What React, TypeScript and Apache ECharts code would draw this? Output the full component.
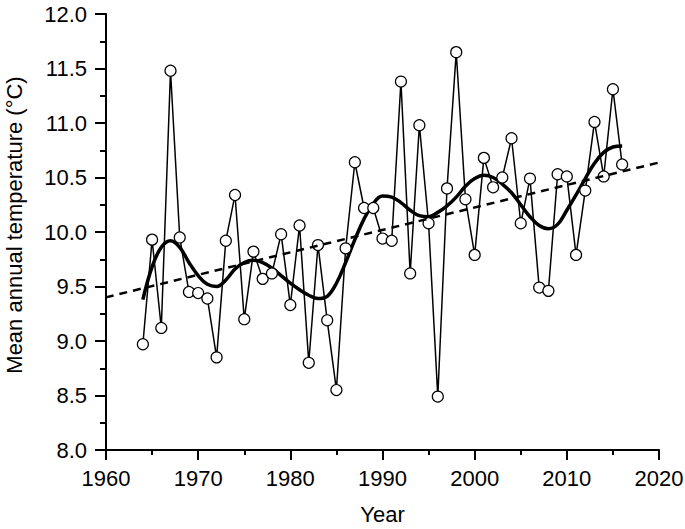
import React, { useEffect, useRef } from "react";
import * as echarts from "echarts";

const years = [
  1964, 1965, 1966, 1967, 1968, 1969, 1970, 1971, 1972, 1973, 1974, 1975, 1976, 1977, 1978, 1979,
  1980, 1981, 1982, 1983, 1984, 1985, 1986, 1987, 1988, 1989, 1990, 1991, 1992, 1993, 1994, 1995,
  1996, 1997, 1998, 1999, 2000, 2001, 2002, 2003, 2004, 2005, 2006, 2007, 2008, 2009, 2010, 2011,
  2012, 2013, 2014, 2015, 2016,
];

const temps = [
  8.97, 9.93, 9.12, 11.48, 9.95, 9.45, 9.44, 9.39, 8.85, 9.92, 10.34, 9.2, 9.82, 9.57, 9.62, 9.98,
  9.33, 10.06, 8.8, 9.88, 9.19, 8.55, 9.85, 10.64, 10.22, 10.22, 9.94, 9.92, 11.38, 9.62, 10.98, 10.08,
  8.49, 10.4, 11.65, 10.3, 9.79, 10.68, 10.41, 10.5, 10.86, 10.08, 10.49, 9.49, 9.46, 10.53, 10.51, 9.79,
  10.38, 11.01, 10.51, 11.31, 10.62,
];

const smoothTemps = [
  9.38, 9.68, 9.86, 9.92, 9.86, 9.72, 9.6, 9.52, 9.5, 9.56, 9.66, 9.72, 9.74, 9.72, 9.67, 9.6,
  9.53, 9.47, 9.42, 9.39, 9.41, 9.53, 9.72, 9.93, 10.12, 10.26, 10.33, 10.32, 10.27, 10.2, 10.15, 10.14,
  10.18, 10.24, 10.32, 10.42, 10.49, 10.52, 10.5, 10.44, 10.36, 10.25, 10.14, 10.06, 10.03, 10.07, 10.2, 10.34,
  10.49, 10.63, 10.73, 10.78, 10.79,
];

const trendYears = [1958.5, 2021.1];
const trendTemps = [9.37, 10.66];

const xTicks = { min: 1960, max: 2020, interval: 10 };
const yTicks = { min: 8, max: 12, interval: 0.5 };

const FONT = "'Liberation Sans', Arial, sans-serif";

export default function App() {
  const ref = useRef<HTMLDivElement>(null);

  useEffect(() => {
    if (!ref.current) return;
    const chart = echarts.init(ref.current, null, { renderer: "svg" });
    const axisCommon = {
      axisLine: { show: true, onZero: false, lineStyle: { color: "#000", width: 2 } },
      axisTick: { show: true, inside: false, lineStyle: { color: "#000", width: 2 } },
      splitLine: { show: false },
      axisLabel: { color: "#000", fontSize: 22, fontFamily: FONT },
      nameTextStyle: { color: "#000", fontSize: 22, fontFamily: FONT },
    };
    chart.setOption({
      animation: false,
      backgroundColor: "#fff",
      grid: {
        left: 106,
        right: 26,
        top: 14,
        bottom: 79,
        containLabel: false,
        outerBoundsMode: "none",
      },
      xAxis: {
        type: "value",
        min: xTicks.min,
        max: xTicks.max,
        interval: xTicks.interval,
        name: "Year",
        nameLocation: "middle",
        nameGap: 53,
        ...axisCommon,
        axisTick: { ...axisCommon.axisTick, length: 10 },
        minorTick: { show: true, splitNumber: 2, length: 5, lineStyle: { color: "#000", width: 2 } },
        axisLabel: { ...axisCommon.axisLabel, margin: 17, formatter: (v: number) => String(v) },
      },
      yAxis: {
        type: "value",
        min: yTicks.min,
        max: yTicks.max,
        interval: yTicks.interval,
        name: "Mean annual temperature (°C)",
        nameLocation: "middle",
        nameGap: 81,
        ...axisCommon,
        nameTextStyle: { ...axisCommon.nameTextStyle, padding: [0, 0, 0, 14] },
        axisTick: { ...axisCommon.axisTick, length: 11 },
        minorTick: { show: true, splitNumber: 2, length: 6, lineStyle: { color: "#000", width: 2 } },
        axisLabel: {
          ...axisCommon.axisLabel,
          margin: 19,
          formatter: (v: number) => v.toFixed(1),
        },
      },
      series: [
        {
          type: "line",
          name: "smooth",
          data: years.map((y, i) => [y, smoothTemps[i]]),
          smooth: 0.4,
          showSymbol: false,
          symbol: "none",
          lineStyle: { color: "#000", width: 3.5 },
          z: 2,
        },
        {
          type: "line",
          name: "annual",
          data: years.map((y, i) => [y, temps[i]]),
          symbol: "circle",
          symbolSize: 11,
          showSymbol: true,
          showAllSymbol: true,
          lineStyle: { color: "#000", width: 1.5 },
          itemStyle: { color: "#fff", borderColor: "#000", borderWidth: 1.2 },
          z: 3,
        },
        {
          type: "line",
          name: "trend",
          data: trendYears.map((y, i) => [y, trendTemps[i]]),
          symbol: "none",
          clip: false,
          lineStyle: { color: "#000", width: 2.5, type: [8, 6] },
          z: 4,
        },
      ],
    });
    return () => chart.dispose();
  }, []);

  return (
    <div
      ref={ref}
      style={{ position: "fixed", left: 0, top: 0, width: 685, height: 529, background: "#fff" }}
    />
  );
}
